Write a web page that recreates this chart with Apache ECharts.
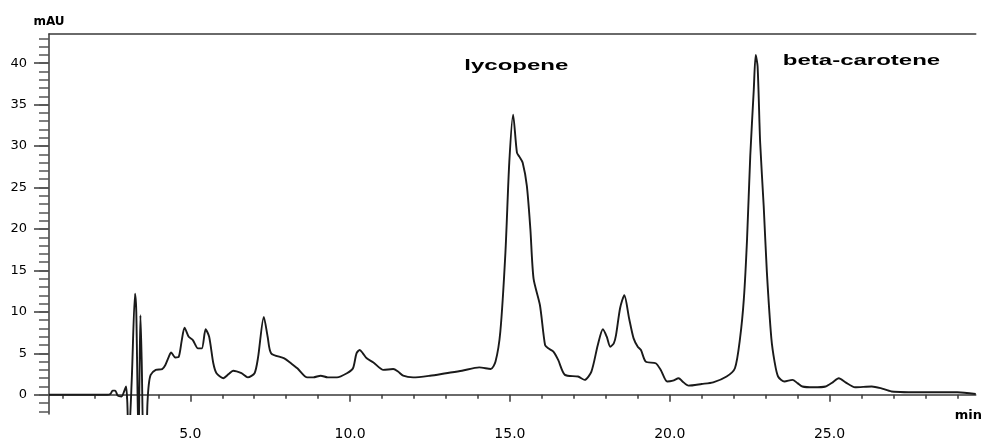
<!DOCTYPE html>
<html>
<head>
<meta charset="utf-8">
<script src="https://cdn.jsdelivr.net/npm/echarts@6/dist/echarts.min.js"></script>
<style>
html,body{margin:0;padding:0;background:#fff;}
#c{width:985px;height:441px;}
</style>
</head>
<body>
<div id="c"></div>
<script>
// Retention time (min)
var times = [0.58,1.5,2.4,2.5,2.57,2.65,2.73,2.85,2.93,2.99,3.03,3.07,3.17,3.27,3.31,3.38,3.41,3.44,3.48,3.54,3.61,3.66,3.7,3.76,3.92,4.12,4.22,4.33,4.4,4.53,4.64,4.73,4.82,4.95,5.08,5.24,5.36,5.48,5.59,5.72,5.82,6.03,6.2,6.34,6.6,6.8,7.01,7.12,7.3,7.42,7.53,7.94,8.15,8.35,8.66,8.85,9.08,9.3,9.59,9.9,10.09,10.2,10.3,10.4,10.52,10.73,11.04,11.35,11.5,11.66,11.97,12.5,13.0,13.5,14.04,14.4,14.55,14.7,14.86,14.98,15.1,15.22,15.3,15.4,15.53,15.64,15.74,15.94,16.1,16.2,16.36,16.51,16.72,17.13,17.34,17.55,17.75,17.91,18.03,18.14,18.25,18.32,18.45,18.58,18.73,18.87,19.0,19.1,19.25,19.56,19.72,19.92,20.1,20.28,20.4,20.59,21.0,21.36,21.78,22.04,22.2,22.32,22.42,22.52,22.63,22.69,22.75,22.83,22.94,23.04,23.18,23.28,23.39,23.59,23.84,24.0,24.15,24.5,24.88,25.1,25.29,25.5,25.8,26.32,26.6,26.94,27.97,29.0,29.575];
// Absorbance (mAU)
var signal = [0.0,0.0,0.0,0.1,0.5,0.5,-0.1,-0.2,0.4,1.0,-1.0,-6,2,12.2,10,-6,2,9.6,4,-6,-6,-1,1.2,2.4,3.0,3.1,3.6,4.6,5.1,4.5,4.6,6.5,8.1,7.0,6.6,5.6,5.6,7.9,7.0,3.8,2.6,2.0,2.5,2.9,2.6,2.1,2.6,4.5,9.4,7.0,5.0,4.4,3.8,3.2,2.1,2.1,2.3,2.1,2.1,2.6,3.2,5.0,5.4,5.0,4.4,3.9,3.0,3.1,2.8,2.3,2.1,2.3,2.6,2.9,3.3,3.1,4.0,7.6,17.2,28,33.8,29.2,28.7,28.0,25.2,20.0,14.0,10.8,6.0,5.6,5.2,4.2,2.4,2.2,1.8,2.8,6.0,7.9,7.0,5.8,6.2,7.2,10.5,12.0,9.2,6.8,5.8,5.4,4.0,3.8,3.0,1.6,1.7,2.0,1.6,1.1,1.3,1.5,2.2,3.2,6.8,11.6,18.8,28.8,36.8,41.0,39.6,30.4,22.8,14.8,6.8,4.0,2.2,1.6,1.8,1.4,1.0,0.9,1.0,1.5,2.0,1.5,0.9,1.0,0.8,0.4,0.3,0.3,0.1];

var xMajorTicks = [5,10,15,20,25];
var xMinorTicks = [1,2,3,4,5,6,7,8,9,10,11,12,13,14,15,16,17,18,19,20,21,22,23,24,25,26,27,28,29];
var yMajorTicks = [0,5,10,15,20,25,30,35,40];
var yMinorTicks = [-2,-1,0,1,2,3,4,5,6,7,8,9,10,11,12,13,14,15,16,17,18,19,20,21,22,23,24,25,26,27,28,29,30,31,32,33,34,35,36,37,38,39,40,41,42,43];

var peakNames = ['lycopene','beta-carotene'];
var peakLabelPos = [[15.2,39.7],[26.0,40.3]];

var xMin = 0.579, xMax = 29.575, yMin = -2.32, yMax = 43.52;

var pts = times.map(function(t,i){return [t, signal[i]];});

var axisCol = '#3a3a3a';
var chart = echarts.init(document.getElementById('c'), null, {renderer:'canvas'});
var option = {
  animation:false,
  backgroundColor:'#fff',
  grid:{left:49, top:34, right:0, bottom:25},
  xAxis:[
    {type:'value', min:xMin, max:xMax, position:'bottom',
     name:'min', nameLocation:'end', nameGap:-21,
     nameTextStyle:{fontFamily:'DejaVu Sans', fontWeight:'bold', fontSize:13, color:'#000', align:'left', verticalAlign:'top', padding:[14,0,0,0]},
     axisLine:{show:true, lineStyle:{color:axisCol, width:1.5}},
     axisTick:{show:true, customValues:xMajorTicks, length:7, lineStyle:{color:axisCol, width:1.5}},
     axisLabel:{show:true, customValues:xMajorTicks, margin:13, fontFamily:'DejaVu Sans', fontSize:14, color:'#000',
       formatter:function(v){return v.toFixed(1);}},
     splitLine:{show:false}},
    {type:'value', min:xMin, max:xMax, position:'bottom',
     axisLine:{show:false},
     axisTick:{show:true, customValues:xMinorTicks, length:4, lineStyle:{color:axisCol, width:1.5}},
     axisLabel:{show:false}, splitLine:{show:false}},
    {type:'value', min:xMin, max:xMax, position:'top',
     axisLine:{show:true, lineStyle:{color:axisCol, width:1.5}},
     axisTick:{show:false}, axisLabel:{show:false}, splitLine:{show:false}}
  ],
  yAxis:[
    {type:'value', min:yMin, max:yMax, position:'left',
     name:'mAU', nameLocation:'end', nameGap:6,
     nameTextStyle:{fontFamily:'DejaVu Sans', fontWeight:'bold', fontSize:12, color:'#000'},
     axisLine:{show:true, lineStyle:{color:axisCol, width:1.5}},
     axisTick:{show:true, customValues:yMajorTicks, length:15, lineStyle:{color:axisCol, width:1.5}},
     axisLabel:{show:true, customValues:yMajorTicks, margin:22, fontFamily:'DejaVu Sans', fontSize:13, color:'#000'},
     splitLine:{show:false}},
    {type:'value', min:yMin, max:yMax, position:'left',
     axisLine:{show:false},
     axisTick:{show:true, customValues:yMinorTicks, length:10, lineStyle:{color:'#555', width:1.5}},
     axisLabel:{show:false}, splitLine:{show:false}}
  ],
  series:[{
    type:'line', xAxisIndex:0, yAxisIndex:0, data:pts, showSymbol:false, symbol:'none',
    smooth:0.25, clip:true,
    lineStyle:{color:'#1a1a1a', width:1.9}
  }]
};
chart.setOption(option);

var g = peakNames.map(function(name,i){
  var p = chart.convertToPixel({xAxisIndex:0, yAxisIndex:0}, peakLabelPos[i]);
  return {type:'text', x:p[0], y:p[1], scaleX:1.6, scaleY:1,
    style:{text:name, fill:'#000', font:'bold 15px "Liberation Sans", Arial, sans-serif', align:'center', verticalAlign:'middle'}};
});
chart.setOption({graphic:g});
</script>
</body>
</html>
